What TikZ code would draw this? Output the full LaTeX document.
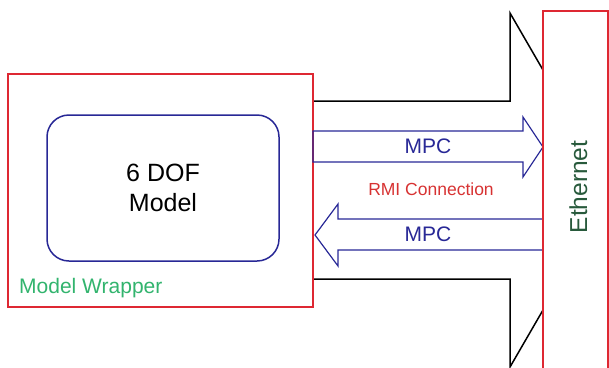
\documentclass[tikz,border=0pt]{standalone}
\usepackage{fontspec}
\setmainfont{Liberation Sans}
\definecolor{wred}{RGB}{222,40,50}
\definecolor{wblue}{RGB}{40,40,150}
\definecolor{wgreen}{RGB}{50,180,110}
\definecolor{egreen}{RGB}{40,90,60}
\definecolor{rmired}{RGB}{215,50,50}
\begin{document}
\begin{tikzpicture}[x=1pt,y=-1pt,
  redbox/.style={draw=wred,line width=1.5pt,fill=white,inner sep=0pt},
  modelbox/.style={draw=wblue,line width=1.5pt,rounded corners=22pt,inner sep=0pt,align=center,font=\fontsize{25}{30}\selectfont},
  bigarrow/.style={draw=black,line width=1.5pt,line join=miter},
  mpcarrow/.style={draw=wblue,line width=1.2pt,line join=miter},
  lbl/.style={inner sep=0pt,anchor=base}]
\useasboundingbox (0,0) rectangle (609,367);
% big black arrow (RMI connection)
\coordinate (bt) at (543,70);
\coordinate (bb) at (543,310);
\draw[bigarrow] (bt) -- (510,13) -- (510,101) -- (313,101) -- (313,279) -- (510,279) -- (510,367) -- (bb);
% model wrapper
\node[redbox,minimum width=305pt,minimum height=233pt] (wrap) at (160.5,190.5) {};
\node[modelbox,minimum width=232pt,minimum height=146pt] (dof) at (163,188) {6 DOF\\Model};
\node[lbl,anchor=base west,text=wgreen,font=\fontsize{21}{24}\selectfont] (wlbl) at (19,293) {Model Wrapper};
% MPC arrows
\draw[mpcarrow] (313,131) -- (523,131) -- (523,117) -- (543,147) -- (523,177) -- (523,162) -- (313,162) -- cycle;
\draw[mpcarrow] (543,219) -- (338,219) -- (338,204) -- (315,235) -- (338,266) -- (338,250) -- (543,250);
% ethernet
\node[redbox,minimum width=65pt,minimum height=370pt] (eth) at (575.5,196) {};
\node[lbl,rotate=90,text=egreen,font=\fontsize{24.5}{28}\selectfont] (ethlbl) at (587,187) {Ethernet};
% labels
\node[lbl,text=wblue,font=\fontsize{21}{24}\selectfont] (mpc1) at (428,153) {MPC};
\node[lbl,text=rmired,font=\fontsize{17.5}{20}\selectfont] (rmi) at (431,195) {RMI Connection};
\node[lbl,text=wblue,font=\fontsize{21}{24}\selectfont] (mpc2) at (428,241) {MPC};
\end{tikzpicture}
\end{document}
